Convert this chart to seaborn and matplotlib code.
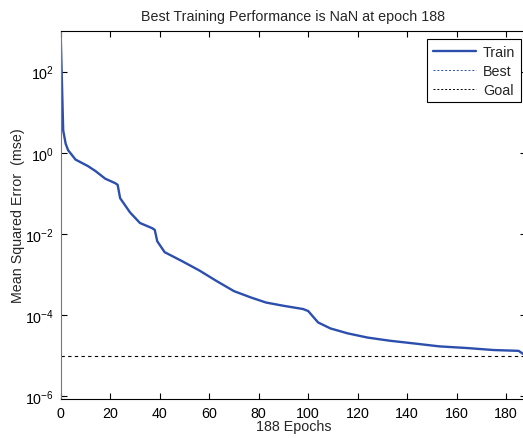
import numpy as np
import seaborn as sns
import matplotlib
matplotlib.use("Agg")
import matplotlib.pyplot as plt
from matplotlib.lines import Line2D

# values (epoch, mse)
epochs = [0, 1, 2, 3, 6, 11, 14, 18, 22, 23, 24, 28, 32, 37, 38, 39, 42, 49, 56,
          63, 70, 77, 83, 90, 98, 100, 104, 109, 116, 124, 133, 143, 153, 164,
          175, 185, 188]
mse = [724, 3.55, 1.66, 1.15, 0.676, 0.468, 0.355, 0.229, 0.178, 0.162, 0.0759,
       0.0339, 0.0186, 0.0138, 0.0126, 6.6e-3, 3.55e-3, 2.14e-3, 1.26e-3,
       6.9e-4, 3.9e-4, 2.7e-4, 2.04e-4, 1.7e-4, 1.41e-4, 1.26e-4, 6.6e-5,
       4.7e-5, 3.55e-5, 2.8e-5, 2.34e-5, 2.0e-5, 1.7e-5, 1.55e-5, 1.38e-5,
       1.32e-5, 1.0e-5]
goal = 1e-5
xticks = [0, 20, 40, 60, 80, 100, 120, 140, 160, 180]
yticks = [1e-6, 1e-4, 1e-2, 1e0, 1e2]

sns.set_style("ticks")
plt.rcParams['font.family'] = ['Liberation Sans', 'DejaVu Sans']
plt.rcParams['font.size'] = 10.3
plt.rcParams['mathtext.fontset'] = 'custom'
plt.rcParams['mathtext.rm'] = 'Liberation Sans'

fig = plt.figure(figsize=(5.23, 4.39), dpi=100)
ax = fig.add_axes([0.1161, 0.0888, 0.8896, 0.839])

blue = '#2c4fae'
sns.lineplot(x=epochs, y=mse, ax=ax, color=blue, linewidth=1.7, label='Train')
ax.axhline(goal, color='k', linestyle=(0, (3, 3)), linewidth=0.8)

ax.set_yscale('log')
ax.set_xlim(0, 188)
ax.set_ylim(10 ** -6.066, 10 ** 3.005)
ax.set_xticks(xticks)
ax.set_xticklabels([str(t) for t in xticks])
ax.set_yticks(yticks)
ax.set_yticklabels([r'$10^{%d}$' % int(np.log10(t)) for t in yticks])
ax.minorticks_off()
ax.tick_params(direction='in', length=4, width=0.8, top=True, right=True,
               labelsize=10.3, pad=5, colors='k')
for s in ax.spines.values():
    s.set_visible(True)
    s.set_color('k')
    s.set_linewidth(0.8)
ax.spines['left'].set_color('#777777')

ax.set_title('Best Training Performance is NaN at epoch 188', fontsize=10.3, pad=8)
ax.set_xlabel('188 Epochs', fontsize=10.3, labelpad=-1)
ax.set_ylabel('Mean Squared Error  (mse)', fontsize=10.3, labelpad=0)

handles = [Line2D([], [], color=blue, linewidth=1.7),
           Line2D([], [], color=blue, linestyle=(0, (2, 2)), linewidth=0.7),
           Line2D([], [], color='k', linestyle=(0, (2, 2)), linewidth=0.7)]
leg = ax.legend(handles, ['Train', 'Best', 'Goal'], loc='upper right',
                bbox_to_anchor=(0.9895, 0.978), fancybox=False, framealpha=1,
                edgecolor='k', fontsize=10.3, handlelength=3.0, borderpad=0.4,
                labelspacing=0.35, handletextpad=0.5, borderaxespad=0)
leg.get_frame().set_linewidth(0.8)

fig.savefig('out.png', dpi=100)
